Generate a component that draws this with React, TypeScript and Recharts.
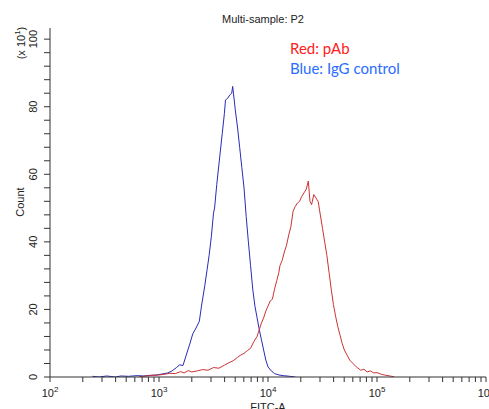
import React from "react";
import { LineChart, Line, XAxis, YAxis, Customized } from "recharts";

// log10(FITC-A) positions and counts (x 10^1)
const blueX = [2.39, 2.45, 2.52, 2.6, 2.65, 2.72, 2.8, 2.86, 2.92, 2.98, 3.03, 3.08, 3.12, 3.16, 3.19, 3.22, 3.25, 3.28, 3.31, 3.34, 3.37, 3.39, 3.42, 3.44, 3.46, 3.48, 3.5, 3.51, 3.53, 3.55, 3.56, 3.58, 3.6, 3.61, 3.63, 3.65, 3.667, 3.676, 3.69, 3.7, 3.72, 3.74, 3.76, 3.78, 3.8, 3.82, 3.84, 3.86, 3.88, 3.9, 3.92, 3.94, 3.96, 3.98, 4.0, 4.03, 4.06, 4.1, 4.14, 4.2, 4.25];
const blueY = [0.2, 0, 0.3, 0, 0.3, 0.2, 0.4, 0.3, 0.5, 0.6, 0.9, 1.2, 1.8, 2.8, 3.6, 3.4, 6.5, 9.5, 12.8, 14.5, 16.5, 21, 27, 31.5, 36, 41.5, 48.5, 50, 57, 63, 66, 72, 78, 82, 82.5, 83.5, 84, 86, 82, 79, 74, 68, 62, 56, 47.5, 40, 33, 26, 21, 17.5, 14, 11, 8, 5, 3, 1.8, 1, 0.6, 0.4, 0.2, 0];

const redX = [2.82, 2.88, 2.95, 3.0, 3.05, 3.1, 3.15, 3.2, 3.23, 3.27, 3.3, 3.35, 3.4, 3.45, 3.5, 3.55, 3.6, 3.64, 3.68, 3.72, 3.75, 3.78, 3.81, 3.84, 3.87, 3.9, 3.92, 3.94, 3.96, 3.98, 4.0, 4.02, 4.04, 4.06, 4.08, 4.1, 4.11, 4.13, 4.15, 4.17, 4.19, 4.21, 4.23, 4.25, 4.27, 4.29, 4.31, 4.33, 4.35, 4.37, 4.385, 4.4, 4.42, 4.44, 4.46, 4.48, 4.5, 4.52, 4.54, 4.56, 4.58, 4.6, 4.62, 4.64, 4.66, 4.68, 4.7, 4.72, 4.75, 4.78, 4.81, 4.85, 4.88, 4.91, 4.94, 4.97, 5.0, 5.04, 5.08, 5.12, 5.16];
const redY = [0.1, 0.3, 0.5, 0.6, 0.8, 1.1, 1.0, 1.6, 1.2, 1.9, 1.5, 1.8, 2.2, 2.0, 2.8, 2.6, 3.5, 4.2, 4.8, 5.8, 6.5, 7.0, 7.8, 8.5, 10.5, 12, 14, 16, 17.5, 19.5, 21, 22.5, 23, 26, 28.5, 31, 33, 34.5, 37, 39, 42, 44.5, 49, 50.5, 51.5, 52, 53.5, 54.5, 55.5, 58, 52, 51, 54, 53, 52, 48, 44, 40, 36, 31, 26, 21.5, 18, 15, 12.5, 10, 8, 6.8, 5, 4, 3, 2, 2.3, 1.5, 1.8, 1.2, 1.3, 0.8, 0.5, 0.3, 0];

const decades = [2, 3, 4, 5];
const xTicks: number[] = [];
decades.forEach((d) => {
  for (let k = 1; k <= 9; k++) xTicks.push(d + Math.log10(k));
});
xTicks.push(6);

const yTicks: number[] = [];
for (let v = 0; v <= 100; v += 4) yTicks.push(v);
const yLabelStep = 20;

const blueData = blueX.map((x, i) => ({ x, y: blueY[i] }));
const redData = redX.map((x, i) => ({ x, y: redY[i] }));

const AX = "#333333";
const FONT = "'Liberation Sans', Arial, sans-serif";

const XTick = (props: any) => {
  const { x, y, payload } = props;
  const v = payload.value as number;
  const major = Math.abs(v - Math.round(v)) < 1e-6;
  return (
    <g>
      <line x1={x} x2={x} y1={y} y2={y + 5} stroke={AX} strokeWidth={1} />
      {major && (
        <text x={x} y={y + 20} textAnchor="middle" fontSize={11} fontFamily={FONT} fill="#222">
          10
          <tspan dy={-5} fontSize={8}>{Math.round(v)}</tspan>
        </text>
      )}
    </g>
  );
};

const YTick = (props: any) => {
  const { x, y, payload } = props;
  const v = payload.value as number;
  const major = v % yLabelStep === 0;
  const bx = x - 13;
  return (
    <g>
      <line x1={x - 6} x2={x} y1={y} y2={y} stroke={AX} strokeWidth={1} />
      {major && (
        <text x={bx} y={y} transform={`rotate(-90, ${bx}, ${y})`} textAnchor="middle" fontSize={11} fontFamily={FONT} fill="#222">
          {v}
        </text>
      )}
    </g>
  );
};

const Texts = () => (
  <g>
    <text x={263} y={23} textAnchor="middle" fontSize={11} fontFamily={FONT} fill="#222">Multi-sample: P2</text>
    <text x={24} y={202} transform="rotate(-90, 24, 202)" textAnchor="middle" fontSize={11} fontFamily={FONT} fill="#222">Count</text>
    <text x={25} y={43} transform="rotate(-90, 25, 43)" textAnchor="middle" fontSize={11} fontFamily={FONT} fill="#222">
      (x 10<tspan dy={-5} fontSize={8}>1</tspan><tspan dy={5}>)</tspan>
    </text>
    <text x={268} y={411} textAnchor="middle" fontSize={11} fontFamily={FONT} fill="#222">FITC-A</text>
    <text x={290} y={54} fontSize={15} fontFamily="Lato, 'Open Sans', sans-serif" fill="#ff2020">Red: pAb</text>
    <text x={290} y={74} fontSize={15} fontFamily="Lato, 'Open Sans', sans-serif" fill="#2a6cff">Blue: IgG control</text>
  </g>
);

export default function App() {
  return (
    <div style={{ position: "absolute", left: 0, top: 0, width: 489, height: 409, background: "#fff" }}>
      <LineChart width={489} height={409} margin={{ top: 28, right: 3, bottom: 0, left: 0 }}>
        <XAxis
          xAxisId="b"
          type="number"
          dataKey="x"
          domain={[2, 6]}
          ticks={xTicks}
          interval={0}
          height={32}
          tickLine={false}
          tickSize={0}
          tickMargin={0}
          tick={<XTick />}
          axisLine={{ stroke: AX }}
          allowDataOverflow
        />
        <XAxis xAxisId="t" orientation="top" type="number" domain={[2, 6]} height={0} tick={false} tickLine={false} axisLine={{ stroke: AX }} />
        <YAxis
          yAxisId="l"
          type="number"
          domain={[0, 103.3]}
          ticks={yTicks}
          interval={0}
          width={50}
          tickLine={false}
          tickSize={0}
          tickMargin={0}
          tick={<YTick />}
          axisLine={{ stroke: AX }}
          allowDataOverflow
        />
        <YAxis yAxisId="r" orientation="right" type="number" domain={[0, 103.3]} width={0} tick={false} tickLine={false} axisLine={{ stroke: AX }} />
        <Line xAxisId="b" yAxisId="l" data={blueData} dataKey="y" stroke="#2a2ab8" strokeWidth={1} dot={false} isAnimationActive={false} type="linear" />
        <Line xAxisId="b" yAxisId="l" data={redData} dataKey="y" stroke="#cc3333" strokeWidth={1} dot={false} isAnimationActive={false} type="linear" />
        <Customized component={Texts} />
      </LineChart>
    </div>
  );
}
